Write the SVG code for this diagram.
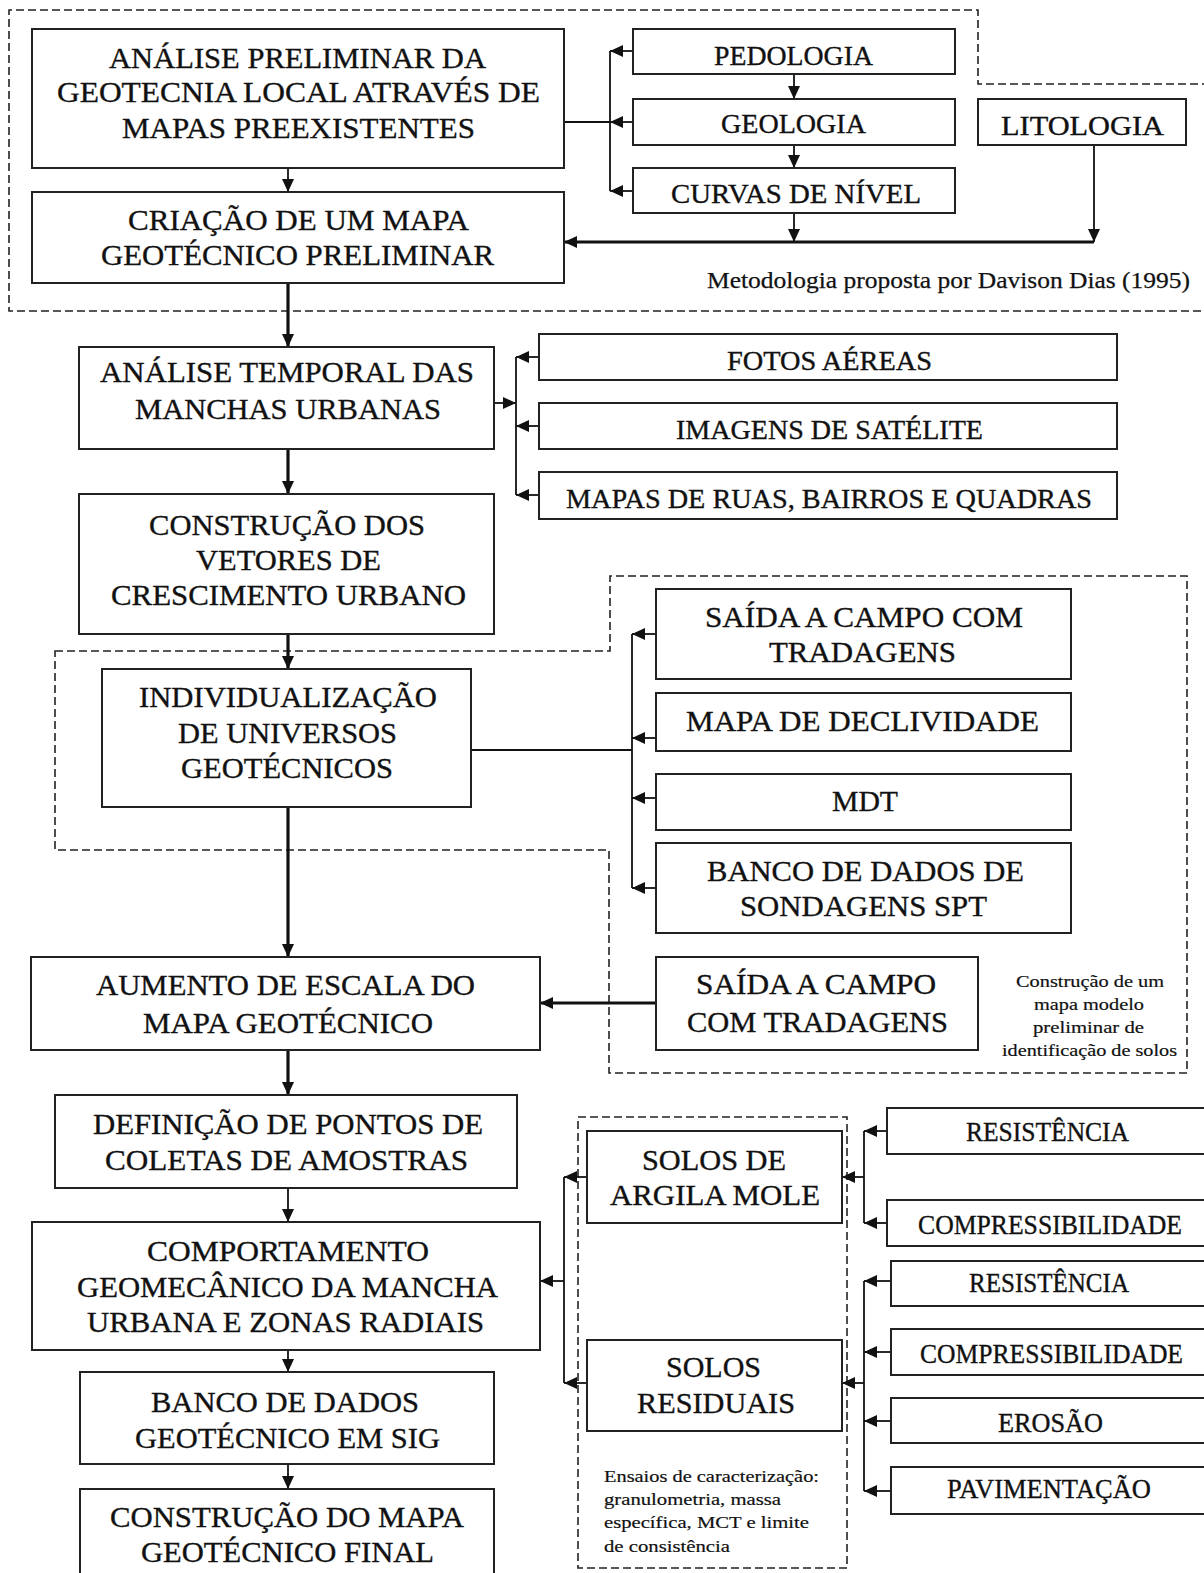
<svg xmlns="http://www.w3.org/2000/svg" width="1204" height="1573" viewBox="0 0 1204 1573">
<defs>
<marker id="ah" markerUnits="userSpaceOnUse" markerWidth="14" markerHeight="12" refX="13" refY="6" orient="auto" viewBox="0 0 14 12">
<path d="M0,0 L13,6 L0,12 z" fill="#111"/>
</marker>
<style>
rect{fill:#fff;stroke:#222;stroke-width:2}
text{font-family:"Liberation Serif","Times New Roman",serif;fill:#111;stroke:#111;stroke-width:0.35}
.b{font-size:30px}
.m{font-size:27px}
.s{font-size:17px;stroke-width:0.2}
.dash{fill:none;stroke:#222;stroke-width:1.6;stroke-dasharray:8 4}
#connectors path{fill:none;stroke:#111}
.t{stroke-width:1.8}
.k{stroke-width:3.2}
.a{marker-end:url(#ah)}
</style>
</defs>
<rect x="0" y="0" width="1204" height="1573" style="fill:#fff;stroke:none"/>

<g id="groups">
<path class="dash" d="M1210,84 H978 V10 H9 V311 H1210"/>
<path class="dash" d="M55,651 H610 V576 H1187 V1073 H609 V850 H55 Z"/>
<rect class="dash" x="578" y="1117" width="269" height="451" style="fill:none;stroke:#222;stroke-width:1.6;stroke-dasharray:8 4"/>
</g>

<g id="connectors">
<path class="t a" d="M288,168 V192"/>
<path class="t" d="M564,122 H610 M610,51 V191"/>
<path class="t a" d="M633,51 H610"/>
<path class="t a" d="M633,122 H610"/>
<path class="t a" d="M633,191 H610"/>
<path class="t a" d="M794,74 V99"/>
<path class="t a" d="M794,145 V168"/>
<path class="t a" d="M794,213 V242"/>
<path class="t a" d="M1094,145 V242"/>
<path class="k a" d="M1094,242 H564"/>
<path class="k a" d="M288,283 V347"/>
<path class="t a" d="M494,403 H516"/>
<path class="t" d="M516,357 V495"/>
<path class="t a" d="M539,357 H516"/>
<path class="t a" d="M539,426 H516"/>
<path class="t a" d="M539,495 H516"/>
<path class="k a" d="M288,449 V494"/>
<path class="k a" d="M288,634 V669"/>
<path class="t" d="M471,750 H632 M632,634 V888"/>
<path class="t a" d="M656,634 H632"/>
<path class="t a" d="M656,738 H632"/>
<path class="t a" d="M656,798 H632"/>
<path class="t a" d="M656,888 H632"/>
<path class="k a" d="M288,807 V957"/>
<path class="k a" d="M656,1003 H540"/>
<path class="k a" d="M288,1050 V1095"/>
<path class="t a" d="M288,1188 V1222"/>
<path class="t a" d="M288,1350 V1372"/>
<path class="t a" d="M288,1464 V1489"/>
<path class="t" d="M564,1177 V1383"/>
<path class="t a" d="M587,1177 H564"/>
<path class="t a" d="M587,1383 H564"/>
<path class="t a" d="M564,1281 H540"/>
<path class="t" d="M864,1131 V1223"/>
<path class="t a" d="M887,1131 H864"/>
<path class="t a" d="M887,1223 H864"/>
<path class="t a" d="M864,1177 H842"/>
<path class="t" d="M864,1281 V1491"/>
<path class="t a" d="M891,1281 H864"/>
<path class="t a" d="M891,1352 H864"/>
<path class="t a" d="M891,1421 H864"/>
<path class="t a" d="M891,1491 H864"/>
<path class="t a" d="M864,1383 H842"/>
</g>

<g id="n-analise-preliminar">
<rect x="32" y="29" width="532" height="139"/>
<text class="b" x="109" y="68" textLength="377" lengthAdjust="spacingAndGlyphs">ANÁLISE PRELIMINAR DA</text>
<text class="b" x="57" y="102" textLength="483" lengthAdjust="spacingAndGlyphs">GEOTECNIA LOCAL ATRAVÉS DE</text>
<text class="b" x="122" y="138" textLength="353" lengthAdjust="spacingAndGlyphs">MAPAS PREEXISTENTES</text>
</g>
<g id="n-criacao-mapa">
<rect x="32" y="192" width="532" height="91"/>
<text class="b" x="128" y="230" textLength="341" lengthAdjust="spacingAndGlyphs">CRIAÇÃO DE UM MAPA</text>
<text class="b" x="101" y="265" textLength="393" lengthAdjust="spacingAndGlyphs">GEOTÉCNICO PRELIMINAR</text>
</g>
<g id="n-pedologia">
<rect x="633" y="29" width="322" height="45"/>
<text class="m" x="714" y="65" textLength="159" lengthAdjust="spacingAndGlyphs">PEDOLOGIA</text>
</g>
<g id="n-geologia">
<rect x="633" y="99" width="322" height="46"/>
<text class="m" x="721" y="133" textLength="145" lengthAdjust="spacingAndGlyphs">GEOLOGIA</text>
</g>
<g id="n-curvas">
<rect x="633" y="168" width="322" height="45"/>
<text class="m" x="671" y="203" textLength="250" lengthAdjust="spacingAndGlyphs">CURVAS DE NÍVEL</text>
</g>
<g id="n-litologia">
<rect x="978" y="99" width="208" height="46"/>
<text class="m" x="1001" y="135" textLength="163" lengthAdjust="spacingAndGlyphs">LITOLOGIA</text>
</g>
<g id="note-metodologia">
<text x="707" y="288" style="font-size:23px;stroke-width:0.25" textLength="483" lengthAdjust="spacingAndGlyphs">Metodologia proposta por Davison Dias (1995)</text>
</g>

<g id="n-analise-temporal">
<rect x="79" y="347" width="415" height="102"/>
<text class="b" x="100" y="382" textLength="374" lengthAdjust="spacingAndGlyphs">ANÁLISE TEMPORAL DAS</text>
<text class="b" x="135" y="419" textLength="306" lengthAdjust="spacingAndGlyphs">MANCHAS URBANAS</text>
</g>
<g id="n-fotos">
<rect x="539" y="334" width="578" height="46"/>
<text class="m" x="727" y="370" textLength="205" lengthAdjust="spacingAndGlyphs">FOTOS AÉREAS</text>
</g>
<g id="n-imagens">
<rect x="539" y="403" width="578" height="46"/>
<text class="m" x="676" y="439" textLength="307" lengthAdjust="spacingAndGlyphs">IMAGENS DE SATÉLITE</text>
</g>
<g id="n-mapas-ruas">
<rect x="539" y="472" width="578" height="47"/>
<text class="m" x="566" y="508" textLength="526" lengthAdjust="spacingAndGlyphs">MAPAS DE RUAS, BAIRROS E QUADRAS</text>
</g>
<g id="n-vetores">
<rect x="79" y="494" width="415" height="140"/>
<text class="b" x="149" y="535" textLength="276" lengthAdjust="spacingAndGlyphs">CONSTRUÇÃO DOS</text>
<text class="b" x="196" y="570" textLength="185" lengthAdjust="spacingAndGlyphs">VETORES DE</text>
<text class="b" x="111" y="605" textLength="355" lengthAdjust="spacingAndGlyphs">CRESCIMENTO URBANO</text>
</g>

<g id="n-individualizacao">
<rect x="102" y="669" width="369" height="138"/>
<text class="b" x="139" y="707" textLength="298" lengthAdjust="spacingAndGlyphs">INDIVIDUALIZAÇÃO</text>
<text class="b" x="178" y="743" textLength="219" lengthAdjust="spacingAndGlyphs">DE UNIVERSOS</text>
<text class="b" x="181" y="778" textLength="212" lengthAdjust="spacingAndGlyphs">GEOTÉCNICOS</text>
</g>
<g id="n-saida1">
<rect x="656" y="589" width="415" height="90"/>
<text class="b" x="705" y="627" textLength="318" lengthAdjust="spacingAndGlyphs">SAÍDA A CAMPO COM</text>
<text class="b" x="769" y="662" textLength="187" lengthAdjust="spacingAndGlyphs">TRADAGENS</text>
</g>
<g id="n-declividade">
<rect x="656" y="693" width="415" height="58"/>
<text class="b" x="686" y="731" textLength="353" lengthAdjust="spacingAndGlyphs">MAPA DE DECLIVIDADE</text>
</g>
<g id="n-mdt">
<rect x="656" y="774" width="415" height="56"/>
<text class="b" x="832" y="811" textLength="66" lengthAdjust="spacingAndGlyphs">MDT</text>
</g>
<g id="n-spt">
<rect x="656" y="843" width="415" height="90"/>
<text class="b" x="707" y="881" textLength="317" lengthAdjust="spacingAndGlyphs">BANCO DE DADOS DE</text>
<text class="b" x="740" y="916" textLength="247" lengthAdjust="spacingAndGlyphs">SONDAGENS SPT</text>
</g>
<g id="n-saida2">
<rect x="656" y="957" width="322" height="93"/>
<text class="b" x="696" y="994" textLength="240" lengthAdjust="spacingAndGlyphs">SAÍDA A CAMPO</text>
<text class="b" x="687" y="1032" textLength="261" lengthAdjust="spacingAndGlyphs">COM TRADAGENS</text>
</g>
<g id="note-construcao">
<text class="s" x="1016" y="987" textLength="148" lengthAdjust="spacingAndGlyphs">Construção de um</text>
<text class="s" x="1034" y="1010" textLength="110" lengthAdjust="spacingAndGlyphs">mapa modelo</text>
<text class="s" x="1033" y="1033" textLength="111" lengthAdjust="spacingAndGlyphs">preliminar de</text>
<text class="s" x="1002" y="1056" textLength="175" lengthAdjust="spacingAndGlyphs">identificação de solos</text>
</g>
<g id="n-aumento">
<rect x="31" y="957" width="509" height="93"/>
<text class="b" x="96" y="995" textLength="379" lengthAdjust="spacingAndGlyphs">AUMENTO DE ESCALA DO</text>
<text class="b" x="143" y="1033" textLength="290" lengthAdjust="spacingAndGlyphs">MAPA GEOTÉCNICO</text>
</g>

<g id="n-definicao">
<rect x="55" y="1095" width="462" height="93"/>
<text class="b" x="93" y="1134" textLength="390" lengthAdjust="spacingAndGlyphs">DEFINIÇÃO DE PONTOS DE</text>
<text class="b" x="105" y="1170" textLength="363" lengthAdjust="spacingAndGlyphs">COLETAS DE AMOSTRAS</text>
</g>
<g id="n-comportamento">
<rect x="32" y="1222" width="508" height="128"/>
<text class="b" x="147" y="1261" textLength="282" lengthAdjust="spacingAndGlyphs">COMPORTAMENTO</text>
<text class="b" x="77" y="1297" textLength="421" lengthAdjust="spacingAndGlyphs">GEOMECÂNICO DA MANCHA</text>
<text class="b" x="87" y="1332" textLength="397" lengthAdjust="spacingAndGlyphs">URBANA E ZONAS RADIAIS</text>
</g>
<g id="n-banco-sig">
<rect x="80" y="1372" width="414" height="92"/>
<text class="b" x="151" y="1412" textLength="268" lengthAdjust="spacingAndGlyphs">BANCO DE DADOS</text>
<text class="b" x="135" y="1448" textLength="305" lengthAdjust="spacingAndGlyphs">GEOTÉCNICO EM SIG</text>
</g>
<g id="n-mapa-final">
<rect x="80" y="1489" width="414" height="111"/>
<text class="b" x="110" y="1527" textLength="354" lengthAdjust="spacingAndGlyphs">CONSTRUÇÃO DO MAPA</text>
<text class="b" x="141" y="1562" textLength="293" lengthAdjust="spacingAndGlyphs">GEOTÉCNICO FINAL</text>
</g>
<g id="n-argila">
<rect x="587" y="1131" width="255" height="92"/>
<text class="b" x="642" y="1170" textLength="144" lengthAdjust="spacingAndGlyphs">SOLOS DE</text>
<text class="b" x="610" y="1205" textLength="210" lengthAdjust="spacingAndGlyphs">ARGILA MOLE</text>
</g>
<g id="n-residuais">
<rect x="587" y="1340" width="255" height="91"/>
<text class="b" x="666" y="1377" textLength="95" lengthAdjust="spacingAndGlyphs">SOLOS</text>
<text class="b" x="637" y="1413" textLength="158" lengthAdjust="spacingAndGlyphs">RESIDUAIS</text>
</g>
<g id="n-resistencia1">
<rect x="887" y="1108" width="330" height="46"/>
<text class="m" x="966" y="1141" textLength="163" lengthAdjust="spacingAndGlyphs">RESISTÊNCIA</text>
</g>
<g id="n-compress1">
<rect x="887" y="1200" width="330" height="46"/>
<text class="m" x="918" y="1234" textLength="264" lengthAdjust="spacingAndGlyphs">COMPRESSIBILIDADE</text>
</g>
<g id="n-resistencia2">
<rect x="891" y="1261" width="330" height="45"/>
<text class="m" x="969" y="1292" textLength="160" lengthAdjust="spacingAndGlyphs">RESISTÊNCIA</text>
</g>
<g id="n-compress2">
<rect x="891" y="1329" width="330" height="46"/>
<text class="m" x="920" y="1363" textLength="263" lengthAdjust="spacingAndGlyphs">COMPRESSIBILIDADE</text>
</g>
<g id="n-erosao">
<rect x="891" y="1398" width="330" height="45"/>
<text class="m" x="998" y="1432" textLength="105" lengthAdjust="spacingAndGlyphs">EROSÃO</text>
</g>
<g id="n-pavimentacao">
<rect x="891" y="1467" width="330" height="47"/>
<text class="m" x="947" y="1498" textLength="204" lengthAdjust="spacingAndGlyphs">PAVIMENTAÇÃO</text>
</g>
<g id="note-ensaios">
<text class="s" x="604" y="1482" textLength="215" lengthAdjust="spacingAndGlyphs">Ensaios de caracterização:</text>
<text class="s" x="604" y="1505" textLength="177" lengthAdjust="spacingAndGlyphs">granulometria, massa</text>
<text class="s" x="604" y="1528" textLength="205" lengthAdjust="spacingAndGlyphs">específica, MCT e limite</text>
<text class="s" x="604" y="1552" textLength="126" lengthAdjust="spacingAndGlyphs">de consistência</text>
</g>
</svg>
